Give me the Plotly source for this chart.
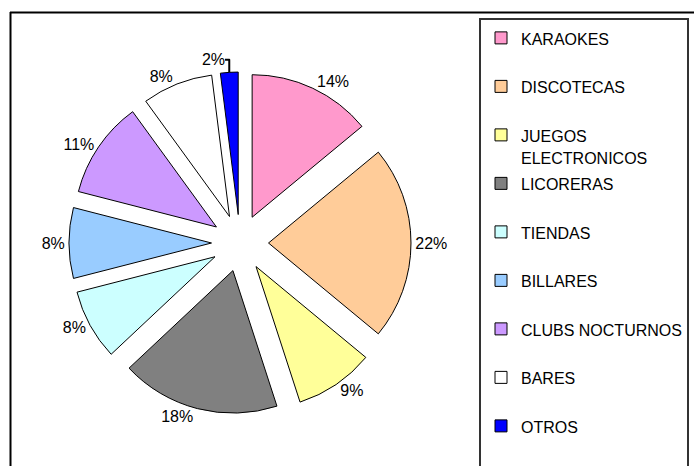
import plotly.graph_objects as go

categories = ["KARAOKES", "DISCOTECAS", "JUEGOS ELECTRONICOS", "LICORERAS", "TIENDAS",
              "BILLARES", "CLUBS NOCTURNOS", "BARES", "OTROS"]
values = [14, 22, 9, 18, 8, 8, 11, 8, 2]
colors = ["#FF99CC", "#FFCC99", "#FFFF99", "#808080", "#CCFFFF",
          "#99CCFF", "#CC99FF", "#FFFFFF", "#0000FF"]

W, H = 694, 466
FONT = "Liberation Sans, Arial, sans-serif"


def legend_label(c):
    if c == "JUEGOS ELECTRONICOS":
        txt = "JUEGOS<br>ELECTRONICOS"
    else:
        txt = c + "<br> "
    sp = "<span style='font-size:16px'>"
    return sp + txt.replace("<br>", "</span><br>" + sp) + "</span>"


labels = [legend_label(c) for c in categories]

fig = go.Figure(go.Pie(
    labels=labels,
    values=values,
    sort=False,
    direction="clockwise",
    rotation=0,
    pull=0.2,
    marker=dict(colors=colors, line=dict(color="#000000", width=1)),
    textinfo="percent",
    textposition="outside",
    outsidetextfont=dict(family=FONT, size=16, color="#000000"),
    domain=dict(x=[62 / W, 418 / W], y=[52 / H, 394 / H]),
    hoverinfo="percent",
))

fig.update_layout(
    width=W, height=H,
    margin=dict(l=0, r=0, t=0, b=0, autoexpand=False),
    paper_bgcolor="white",
    plot_bgcolor="white",
    font=dict(family=FONT, size=15, color="#000000"),
    legend=dict(
        x=479 / W, xanchor="left",
        y=(H - 18) / H, yanchor="top",
        bgcolor="white",
        bordercolor="#333333",
        borderwidth=2,
        valign="top",
        font=dict(family=FONT, size=17.5, color="#000000"),
    ),
    shapes=[
        dict(type="line", xref="paper", yref="paper",
             x0=10 / W, x1=1, y0=(H - 12.5) / H, y1=(H - 12.5) / H,
             line=dict(color="#000000", width=2)),
        dict(type="line", xref="paper", yref="paper",
             x0=10.5 / W, x1=10.5 / W, y0=0, y1=(H - 12) / H,
             line=dict(color="#000000", width=2)),
    ],
)

fig.write_html("out.html", config={"displayModeBar": False},
               post_script="document.body.style.margin='0';")
